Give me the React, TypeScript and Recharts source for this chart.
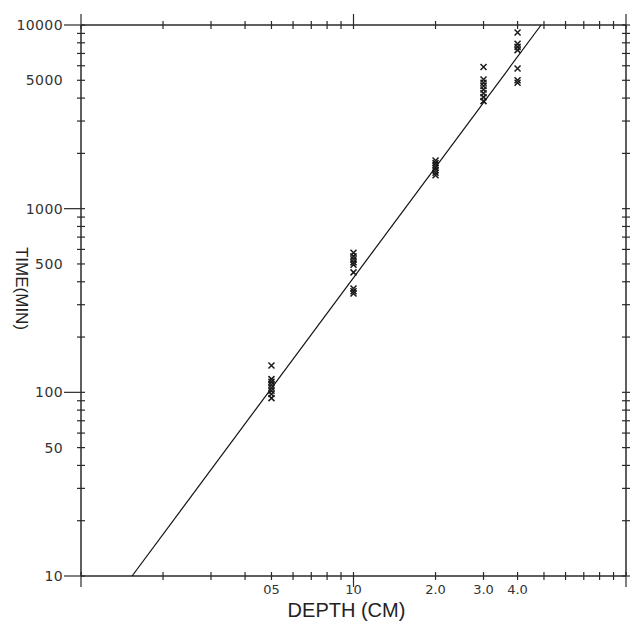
import React from 'react';
import { ScatterChart, Scatter, XAxis, YAxis } from 'recharts';

// ---- data ----
const depthCm = [0.5, 1.0, 2.0, 3.0, 4.0];
const times05 = [140, 118, 114, 110, 106, 102, 98, 93];
const times10 = [575, 550, 530, 510, 495, 450, 368, 355, 345];
const times20 = [1830, 1770, 1720, 1670, 1620, 1570, 1520];
const times30 = [5900, 5050, 4850, 4650, 4450, 4250, 4050, 3850];
const times40 = [9100, 7900, 7600, 7300, 5800, 5000, 4850];
const timesByDepth = [times05, times10, times20, times30, times40];

// fitted line end points (depth, time)
const fitDepth = [0.154, 4.88];
const fitTime = [10, 10000];

// ---- ticks ----
const xTicks = [0.1, 0.2, 0.3, 0.4, 0.5, 0.6, 0.7, 0.8, 0.9, 1, 2, 3, 4, 5, 6, 7, 8, 9, 10];
const xMajor = [0.1, 1, 10];
const xTickLabels: Record<string, string> = { '0.5': '05', '1': '10', '2': '2.0', '3': '3.0', '4': '4.0' };

const yTicks = [
  10, 20, 30, 40, 50, 60, 70, 80, 90,
  100, 200, 300, 400, 500, 600, 700, 800, 900,
  1000, 2000, 3000, 4000, 5000, 6000, 7000, 8000, 9000, 10000,
];
const yMajor = [10, 100, 1000, 10000];
const yTickLabels: Record<string, string> = {
  '10': '10', '50': '50', '100': '100', '500': '500', '1000': '1000', '5000': '5000', '10000': '10000',
};

const points = depthCm.flatMap((d, i) => timesByDepth[i].map((t) => ({ d, t })));
const fitData = fitDepth.map((d, i) => ({ d, t: fitTime[i] }));

const AXIS = '#2a2a2a';
const TICK_FONT = '"DejaVu Sans", sans-serif';
const TITLE_FONT = '"Liberation Sans", Arial, sans-serif';

function BottomTick(props: any) {
  const { x, y, payload } = props;
  const v = payload.value;
  const major = xMajor.includes(v);
  const label = xTickLabels[String(v)];
  return (
    <g>
      <line x1={x} x2={x} y1={y - 4} y2={y + (major ? 11 : 4)} stroke={AXIS} strokeWidth={1.2} />
      {label && (
        <text x={x} y={y + 18} textAnchor="middle" fontFamily={TICK_FONT} fontSize={13} fill="#333">
          {label}
        </text>
      )}
    </g>
  );
}

function TopTick(props: any) {
  const { x, y, payload } = props;
  const major = xMajor.includes(payload.value);
  return <line x1={x} x2={x} y1={y - (major ? 11 : 4)} y2={y + 4} stroke={AXIS} strokeWidth={1.2} />;
}

function LeftTick(props: any) {
  const { x, y, payload } = props;
  const v = payload.value;
  const major = yMajor.includes(v);
  const label = yTickLabels[String(v)];
  return (
    <g>
      <line x1={x - (major ? 17 : 4)} x2={x + 4} y1={y} y2={y} stroke={AXIS} strokeWidth={1.2} />
      {label && (
        <text
          x={x - 18}
          y={y}
          dy="0.36em"
          textAnchor="end"
          fontFamily={TICK_FONT}
          fontSize={14}
          letterSpacing={0.4}
          fill="#333"
        >
          {label}
        </text>
      )}
    </g>
  );
}

function RightTick(props: any) {
  const { x, y } = props;
  return <line x1={x - 4} x2={x + 4} y1={y} y2={y} stroke={AXIS} strokeWidth={1.2} />;
}

function CrossMarker(props: any) {
  const { cx, cy } = props;
  if (cx == null || cy == null) return <g />;
  const s = 3;
  return (
    <path
      d={`M${cx - s},${cy - s}L${cx + s},${cy + s}M${cx - s},${cy + s}L${cx + s},${cy - s}`}
      stroke="#1a1a1a"
      strokeWidth={1.5}
      fill="none"
    />
  );
}

function renderYTitle(props: any) {
  const vb = props.viewBox || { x: 0, y: 25, width: 81, height: 551 };
  const cx = vb.x + 21;
  const cy = vb.y + vb.height / 2 - 12;
  return (
    <text
      transform={`translate(${cx},${cy}) rotate(90)`}
      textAnchor="middle"
      dominantBaseline="central"
      fontFamily={TITLE_FONT}
      fontSize={17}
      fill="#222"
    >
      TIME(MIN)
    </text>
  );
}

function renderXTitle(props: any) {
  const vb = props.viewBox || { x: 81, y: 576, width: 545, height: 46 };
  const cx = vb.x + vb.width / 2 - 7;
  const cy = vb.y + 41;
  return (
    <text x={cx} y={cy} textAnchor="middle" fontFamily={TITLE_FONT} fontSize={20} fill="#222">
      DEPTH (CM)
    </text>
  );
}

export default function App() {
  return (
    <div style={{ position: 'absolute', left: 0, top: 0, background: '#fff' }}>
      <ScatterChart width={630} height={622} margin={{ top: 0, right: 0, bottom: 0, left: 0 }}>
        <XAxis
          xAxisId="bottom"
          dataKey="d"
          type="number"
          scale="log"
          domain={[0.1, 10]}
          ticks={xTicks}
          interval={0}
          orientation="bottom"
          height={46}
          tickSize={0}
          tickMargin={0}
          tickLine={false}
          axisLine={{ stroke: AXIS, strokeWidth: 1.5 }}
          tick={<BottomTick />}
          label={renderXTitle}
        />
        <XAxis
          xAxisId="top"
          dataKey="d"
          type="number"
          scale="log"
          domain={[0.1, 10]}
          ticks={xTicks}
          interval={0}
          orientation="top"
          height={25}
          tickSize={0}
          tickMargin={0}
          tickLine={false}
          axisLine={{ stroke: AXIS, strokeWidth: 1.5 }}
          tick={<TopTick />}
        />
        <YAxis
          yAxisId="left"
          dataKey="t"
          type="number"
          scale="log"
          domain={[10, 10000]}
          ticks={yTicks}
          interval={0}
          orientation="left"
          width={81}
          tickSize={0}
          tickMargin={0}
          tickLine={false}
          axisLine={{ stroke: AXIS, strokeWidth: 1.5 }}
          tick={<LeftTick />}
          label={renderYTitle}
        />
        <YAxis
          yAxisId="right"
          dataKey="t"
          type="number"
          scale="log"
          domain={[10, 10000]}
          ticks={yTicks}
          interval={0}
          orientation="right"
          width={4}
          tickSize={0}
          tickMargin={0}
          tickLine={false}
          axisLine={{ stroke: AXIS, strokeWidth: 1.5 }}
          tick={<RightTick />}
        />
        <Scatter
          data={fitData}
          xAxisId="top"
          yAxisId="right"
          line={{ stroke: '#111', strokeWidth: 1.2 }}
          shape={() => <g />}
          isAnimationActive={false}
        />
        <Scatter
          data={points}
          xAxisId="bottom"
          yAxisId="left"
          shape={<CrossMarker />}
          isAnimationActive={false}
        />
      </ScatterChart>
    </div>
  );
}
